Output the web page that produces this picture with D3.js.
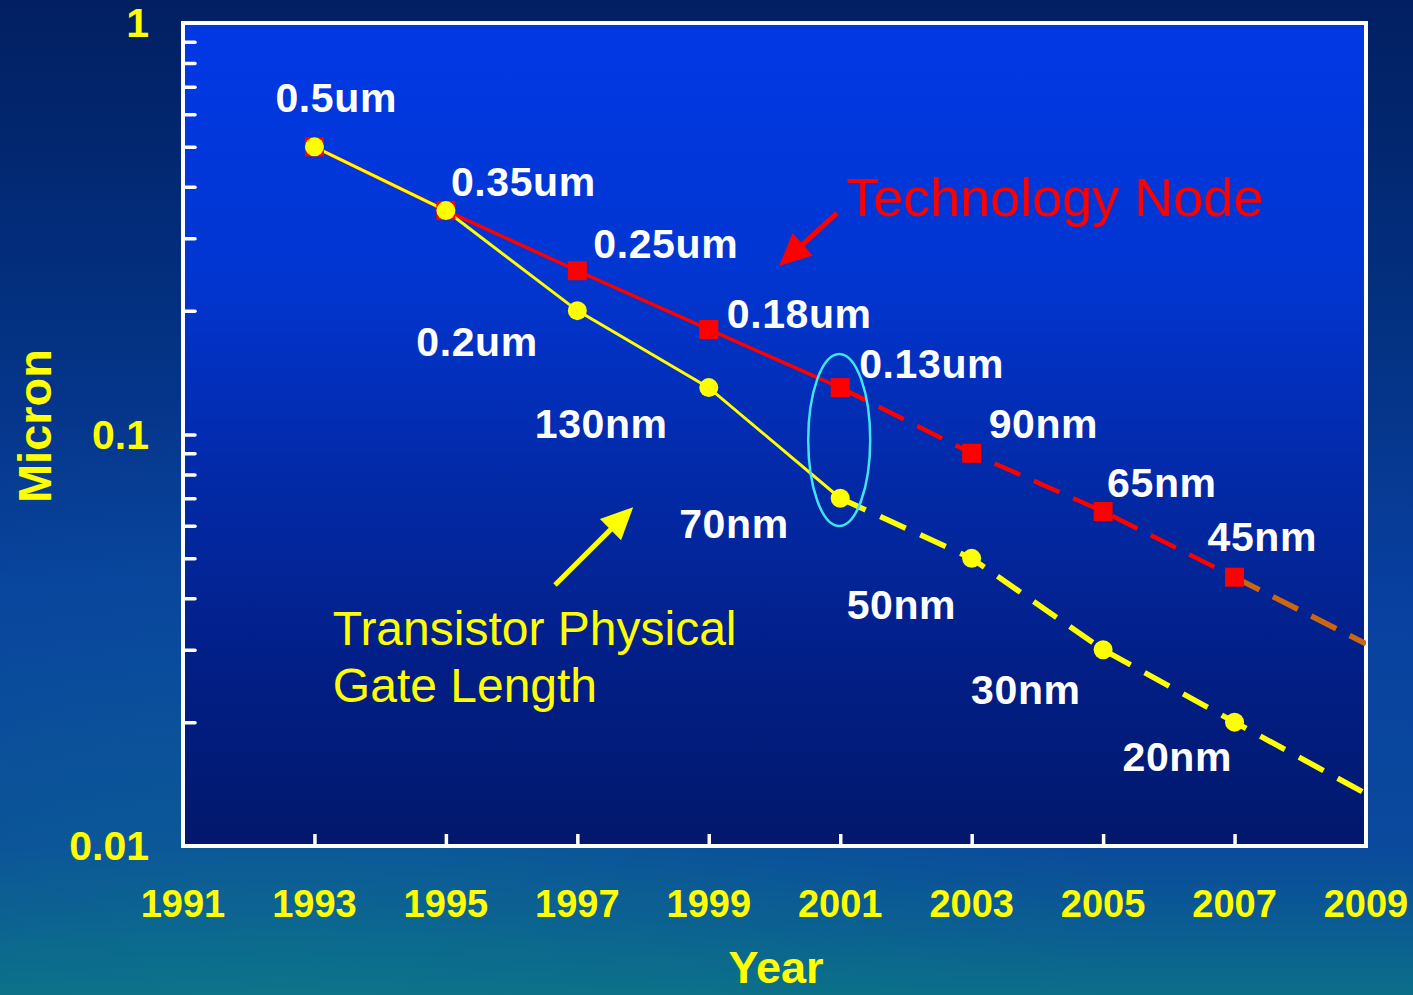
<!DOCTYPE html>
<html>
<head>
<meta charset="utf-8">
<script src="https://cdn.jsdelivr.net/npm/d3@7"></script>
<style>
  html, body { margin: 0; padding: 0; background: #02246a; }
  svg { display: block; }
  text { font-family: "Liberation Sans", Arial, sans-serif; }
</style>
</head>
<body>
<svg id="chart" width="1413" height="995"></svg>
<script>
// ---- data ----
const years = [1993, 1995, 1997, 1999, 2001, 2003, 2005, 2007];
const nodeValues = [0.5, 0.35, 0.25, 0.18, 0.13, 0.09, 0.065, 0.045];
const nodeLabels = ["0.5um", "0.35um", "0.25um", "0.18um", "0.13um", "90nm", "65nm", "45nm"];
const gateYears = [1993, 1995, 1997, 1999, 2001, 2003, 2005, 2007];
const gateValues = [0.5, 0.35, 0.2, 0.13, 0.07, 0.05, 0.03, 0.02];
const gateLabels = [null, null, "0.2um", "130nm", "70nm", "50nm", "30nm", "20nm"];
const forecastStart = 2001;          // solid lines end here, dashed after
const trendYear = 2009;
const nodeTrendEnd = 0.031;
const gateTrendEnd = 0.0134;
const xTickYears = [1991, 1993, 1995, 1997, 1999, 2001, 2003, 2005, 2007, 2009];
const yTickValues = [1, 0.1, 0.01];
const yTickLabels = ["1", "0.1", "0.01"];

// label placement relative to each point (px)
const nodeLabelOffsets = [[-39, -35], [5, -15], [16, -13], [18, -1], [19, -10], [17, -15], [4, -14], [-27, -26]];
const gateLabelOffsets = [null, null, [-161, 45], [-174, 50], [-161, 40], [-125, 61], [-132, 54], [-112, 49]];

// ---- layout ----
const W = 1413, H = 995;
const plot = { left: 183, right: 1366, top: 23, bottom: 846 };

const svg = d3.select("#chart");
const defs = svg.append("defs");

const bgGrad = defs.append("linearGradient").attr("id", "bgGrad")
  .attr("x1", 0).attr("y1", 0).attr("x2", 0).attr("y2", 1);
[[0, "#021f62"], [0.3, "#03307f"], [0.6, "#0840a0"], [0.85, "#0a4a9c"], [0.93, "#0a5c92"], [1, "#0c6e88"]]
  .forEach(([o, c]) => bgGrad.append("stop").attr("offset", o).attr("stop-color", c));

const plotGrad = defs.append("linearGradient").attr("id", "plotGrad")
  .attr("x1", 0).attr("y1", 0).attr("x2", 0).attr("y2", 1);
[[0, "#0038e4"], [0.3, "#0236d2"], [0.55, "#022aa8"], [0.8, "#021e84"], [1, "#01186c"]]
  .forEach(([o, c]) => plotGrad.append("stop").attr("offset", o).attr("stop-color", c));

defs.append("clipPath").attr("id", "plotClip").append("rect")
  .attr("x", plot.left).attr("y", plot.top)
  .attr("width", plot.right - plot.left).attr("height", plot.bottom - plot.top);

svg.append("rect").attr("width", W).attr("height", H).attr("fill", "url(#bgGrad)");

// soft lighter band on the lower part of the slide
const glow = defs.append("radialGradient").attr("id", "glow")
  .attr("cx", 0.2).attr("cy", 1).attr("r", 0.6);
glow.append("stop").attr("offset", 0).attr("stop-color", "#10808a").attr("stop-opacity", 0.35);
glow.append("stop").attr("offset", 1).attr("stop-color", "#10808a").attr("stop-opacity", 0);
svg.append("rect").attr("width", W).attr("height", H).attr("fill", "url(#glow)");

svg.append("rect")
  .attr("x", plot.left).attr("y", plot.top)
  .attr("width", plot.right - plot.left).attr("height", plot.bottom - plot.top)
  .attr("fill", "url(#plotGrad)");

// ---- scales ----
const x = d3.scaleLinear().domain([1991, 2009]).range([plot.left, plot.right]);
const y = d3.scaleLog().domain([0.01, 1]).range([plot.bottom, plot.top]);

// ---- axes: ticks drawn inward ----
const minorTicks = [];
[0.01, 0.1].forEach(d => { for (let k = 2; k <= 9; k++) minorTicks.push(+(d * k).toFixed(4)); });

const axisG = svg.append("g");
const yAxis = d3.axisLeft(y).tickValues(minorTicks.concat([0.1])).tickSize(-12).tickFormat("");
axisG.append("g").attr("transform", `translate(${plot.left},0)`).call(yAxis)
  .call(g => g.select(".domain").remove())
  .call(g => g.selectAll("line").attr("stroke", "#fff").attr("stroke-width", 3.5).attr("stroke-linecap", "round"));

const xAxis = d3.axisBottom(x).tickValues(xTickYears.slice(1, -1)).tickSize(-12).tickFormat("");
axisG.append("g").attr("transform", `translate(0,${plot.bottom})`).call(xAxis)
  .call(g => g.select(".domain").remove())
  .call(g => g.selectAll("line").attr("stroke", "#fff").attr("stroke-width", 3.5));

// plot frame
svg.append("rect")
  .attr("x", plot.left).attr("y", plot.top)
  .attr("width", plot.right - plot.left).attr("height", plot.bottom - plot.top)
  .attr("fill", "none").attr("stroke", "#fff").attr("stroke-width", 4);

// tick labels
svg.append("g").selectAll("text").data(xTickYears).join("text")
  .attr("x", d => x(d)).attr("y", 917)
  .attr("text-anchor", "middle")
  .attr("font-size", 38).attr("font-weight", "bold").attr("fill", "#ffff00")
  .text(d => d);

svg.append("g").selectAll("text").data(yTickValues).join("text")
  .attr("x", 149).attr("y", d => y(d) + 14)
  .attr("text-anchor", "end")
  .attr("font-size", 41).attr("font-weight", "bold").attr("fill", "#ffff00")
  .text((d, i) => yTickLabels[i]);

// axis titles
svg.append("text")
  .attr("transform", "translate(51,426) rotate(-90)")
  .attr("text-anchor", "middle")
  .attr("font-size", 47).attr("font-weight", "bold").attr("fill", "#ffff00")
  .text("Micron");

svg.append("text")
  .attr("x", 776).attr("y", 983)
  .attr("text-anchor", "middle")
  .attr("font-size", 45).attr("font-weight", "bold").attr("fill", "#ffff00")
  .text("Year");

// ---- series ----
const nodePts = years.map((yr, i) => [yr, nodeValues[i]]);
const gatePts = gateYears.map((yr, i) => [yr, gateValues[i]]);
const line = d3.line().x(d => x(d[0])).y(d => y(d[1]));

const lines = svg.append("g").attr("clip-path", "url(#plotClip)");

// technology node
lines.append("path")
  .attr("d", line(nodePts.filter(p => p[0] <= forecastStart)))
  .attr("fill", "none").attr("stroke", "#ff0000").attr("stroke-width", 3.5);
lines.append("path")
  .attr("d", line(nodePts.filter(p => p[0] >= forecastStart)))
  .attr("fill", "none").attr("stroke", "#ff0000").attr("stroke-width", 4.5)
  .attr("stroke-dasharray", "28,15");
lines.append("path")
  .attr("d", line([nodePts[nodePts.length - 1], [trendYear, nodeTrendEnd]]))
  .attr("fill", "none").attr("stroke", "#cc6611").attr("stroke-width", 5.5)
  .attr("stroke-dasharray", "28,15");

// gate length
lines.append("path")
  .attr("d", line(gatePts.filter(p => p[0] <= forecastStart)))
  .attr("fill", "none").attr("stroke", "#ffff00").attr("stroke-width", 3);
lines.append("path")
  .attr("d", line(gatePts.filter(p => p[0] >= forecastStart).concat([[trendYear, gateTrendEnd]])))
  .attr("fill", "none").attr("stroke", "#ffff00").attr("stroke-width", 5.5)
  .attr("stroke-dasharray", "28,16");

// markers
const sq = 19;
svg.append("g").selectAll("rect").data(nodePts).join("rect")
  .attr("x", d => x(d[0]) - sq / 2).attr("y", d => y(d[1]) - sq / 2)
  .attr("width", sq).attr("height", sq).attr("fill", "#ff0000");

svg.append("g").selectAll("circle").data(gatePts).join("circle")
  .attr("cx", d => x(d[0])).attr("cy", d => y(d[1]))
  .attr("r", 9.5).attr("fill", "#ffff00");

// highlight ellipse around the 2001 pair
const iF = years.indexOf(forecastStart);
svg.append("ellipse")
  .attr("cx", x(forecastStart) - 1)
  .attr("cy", (y(nodeValues[iF]) + y(gateValues[gateYears.indexOf(forecastStart)])) / 2 - 3)
  .attr("rx", 31).attr("ry", 86)
  .attr("fill", "none").attr("stroke", "#40e4f4").attr("stroke-width", 2.5);

// ---- point labels ----
const labelStyle = sel => sel
  .attr("font-size", 41).attr("font-weight", "bold").attr("fill", "#ffffff")
  .attr("letter-spacing", 0.6);

svg.append("g").selectAll("text").data(nodePts).join("text")
  .attr("x", (d, i) => x(d[0]) + nodeLabelOffsets[i][0])
  .attr("y", (d, i) => y(d[1]) + nodeLabelOffsets[i][1])
  .call(labelStyle)
  .text((d, i) => nodeLabels[i]);

svg.append("g").selectAll("text").data(gatePts.filter((d, i) => gateLabels[i])).join("text")
  .attr("x", d => x(d[0]) + gateLabelOffsets[gateYears.indexOf(d[0])][0])
  .attr("y", d => y(d[1]) + gateLabelOffsets[gateYears.indexOf(d[0])][1])
  .call(labelStyle)
  .text(d => gateLabels[gateYears.indexOf(d[0])]);

// ---- annotations (anchored in data space) ----
function arrow(from, to, color, width, headLen, headW) {
  const x0 = x(from[0]), y0 = y(from[1]), x1 = x(to[0]), y1 = y(to[1]);
  const ang = Math.atan2(y1 - y0, x1 - x0);
  const bx = x1 - headLen * Math.cos(ang), by = y1 - headLen * Math.sin(ang);
  const nx = -Math.sin(ang) * headW / 2, ny = Math.cos(ang) * headW / 2;
  const g = svg.append("g");
  g.append("line").attr("x1", x0).attr("y1", y0).attr("x2", bx + 4 * Math.cos(ang)).attr("y2", by + 4 * Math.sin(ang))
    .attr("stroke", color).attr("stroke-width", width);
  g.append("path")
    .attr("d", `M${x1},${y1}L${bx + nx},${by + ny}L${bx - nx},${by - ny}Z`)
    .attr("fill", color);
}

arrow([2000.95, 0.345], [2000.07, 0.2567], "#ff0000", 5, 32, 30);
arrow([1996.66, 0.0431], [1997.85, 0.0666], "#ffff00", 5, 32, 30);

svg.append("text")
  .attr("x", x(2001.09)).attr("y", y(0.3396))
  .attr("font-size", 54).attr("fill", "#ff0000")
  .text("Technology Node");

const gateTitle = svg.append("text")
  .attr("font-size", 48).attr("fill", "#ffff00");
gateTitle.append("tspan").attr("x", x(1993.28)).attr("y", y(0.0308)).text("Transistor Physical");
gateTitle.append("tspan").attr("x", x(1993.28)).attr("dy", 57).text("Gate Length");
</script>
</body>
</html>
